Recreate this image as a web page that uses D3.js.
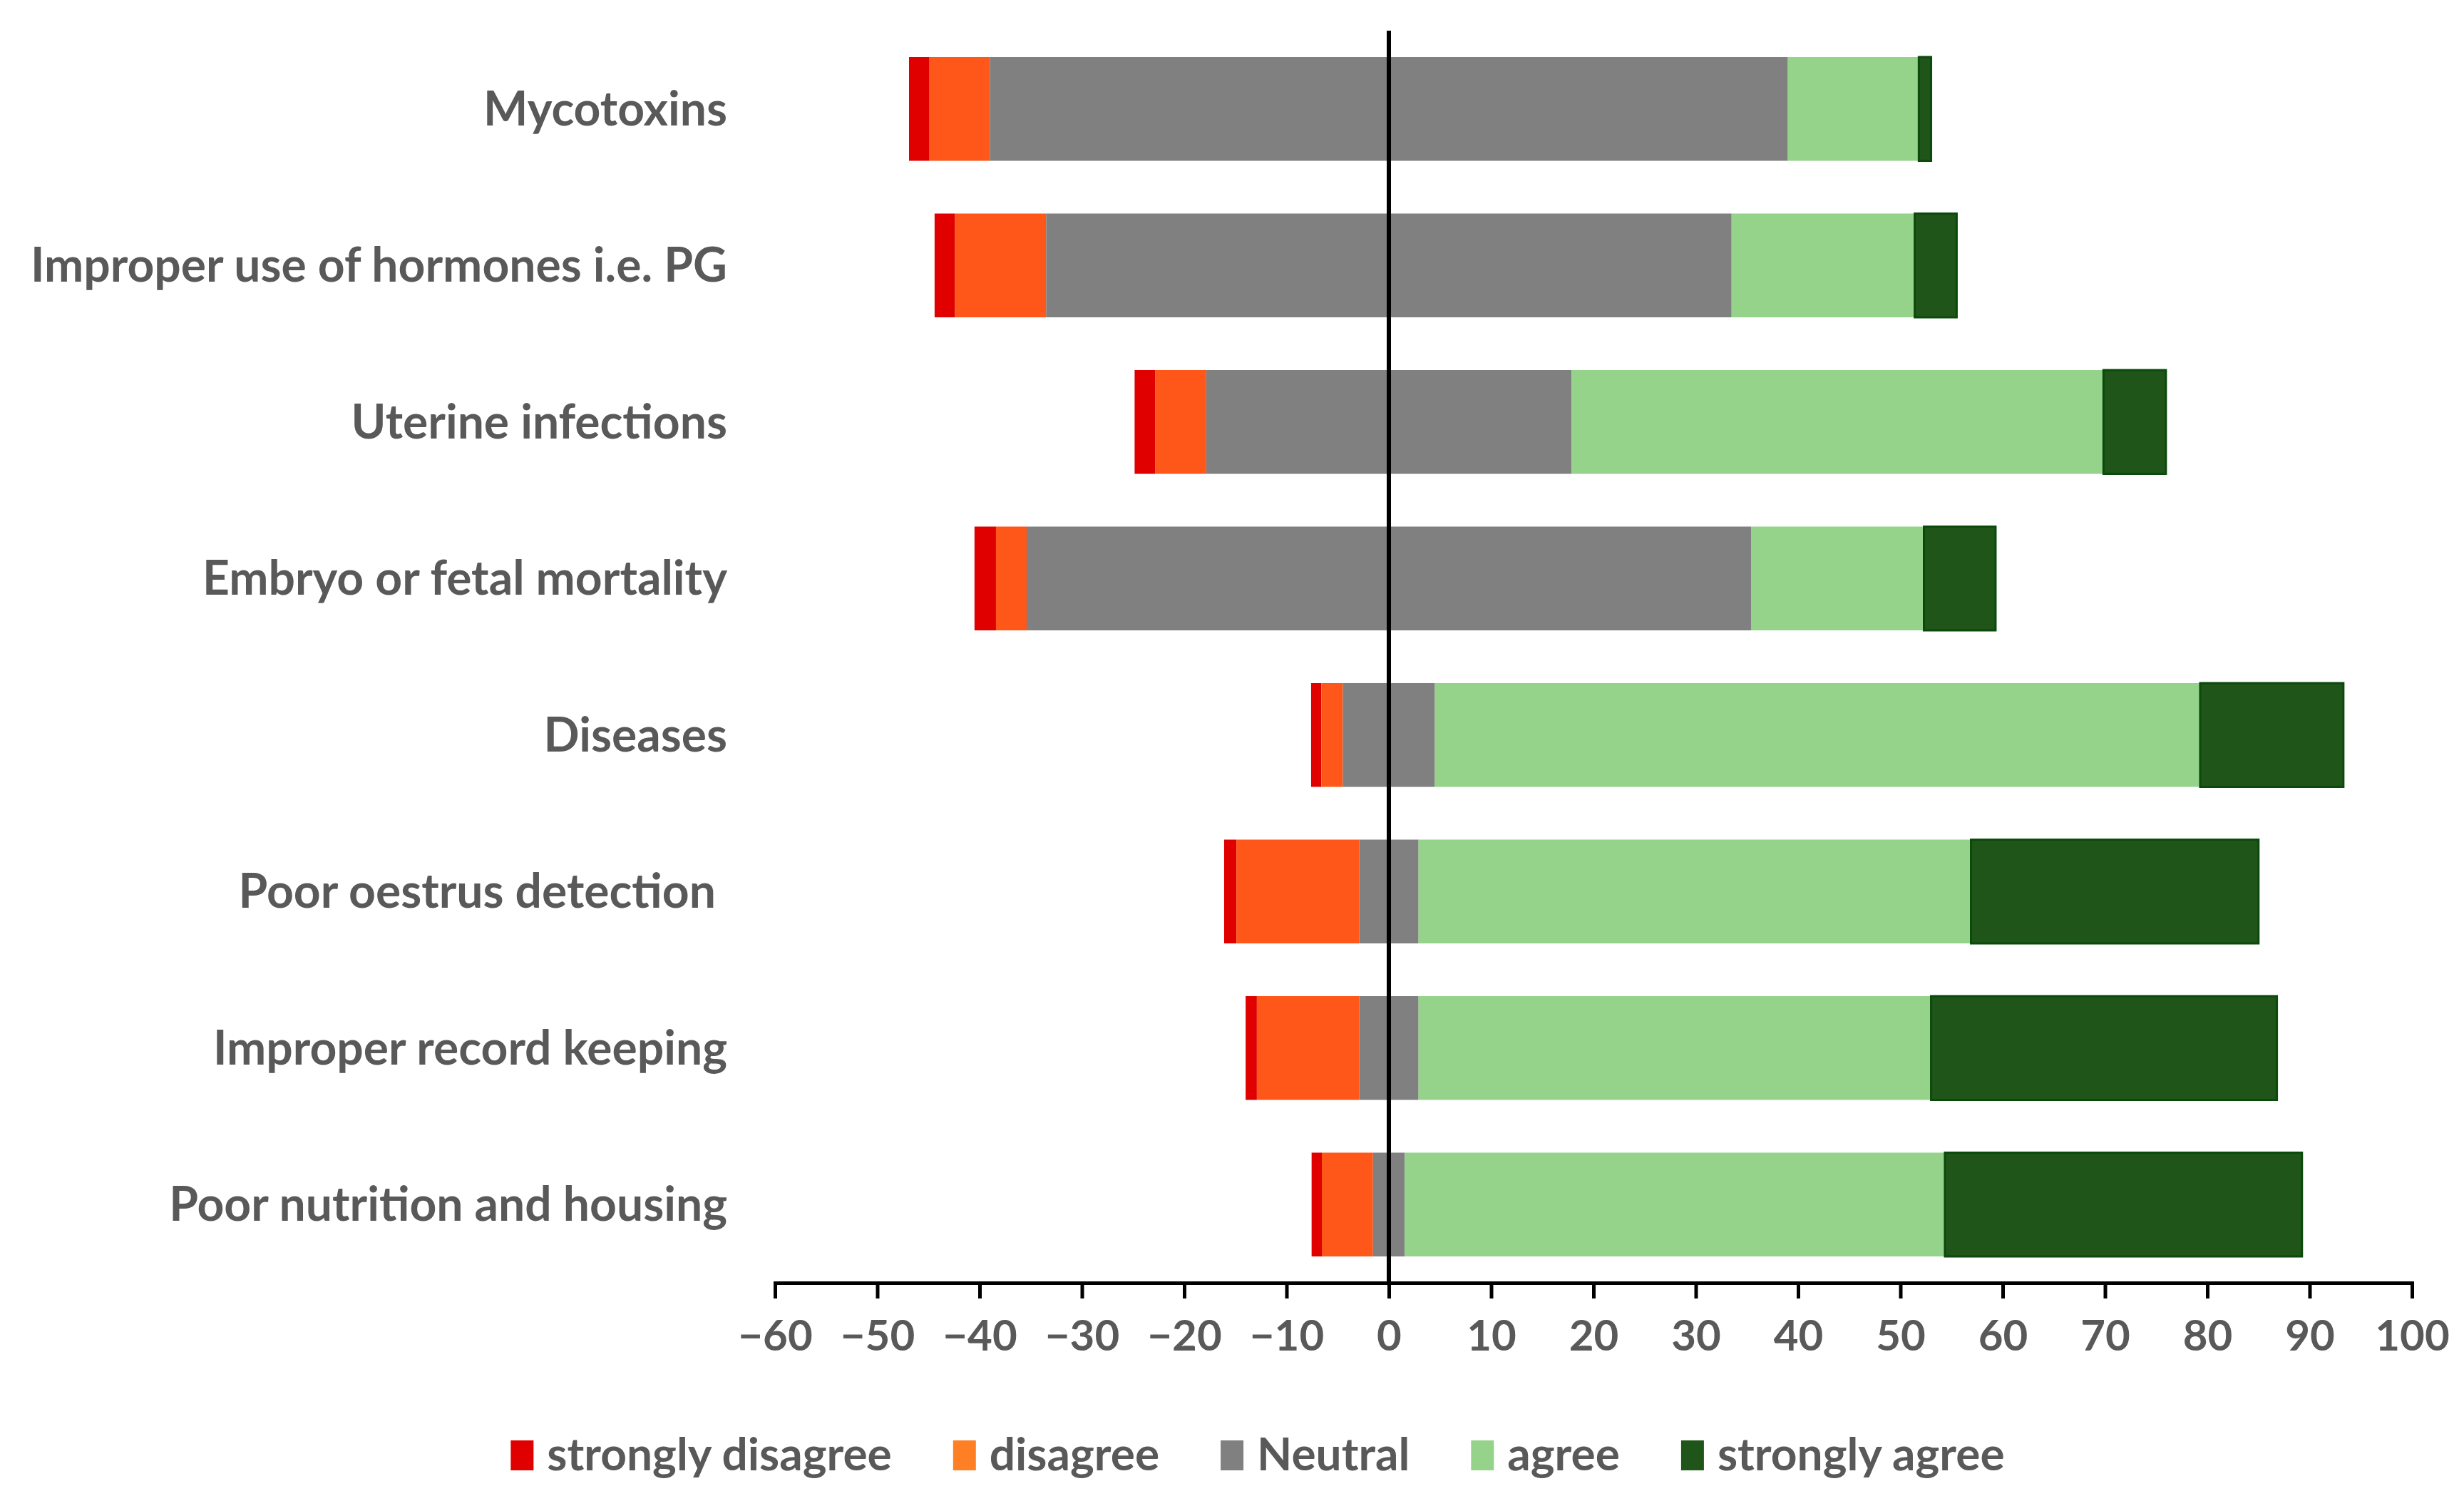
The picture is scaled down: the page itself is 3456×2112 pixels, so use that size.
<!DOCTYPE html>
<html lang="en">
<head>
  <meta charset="utf-8">
  <title>Likert bars</title>
  <script src="https://cdn.jsdelivr.net/npm/d3@7"></script>
  <style>
    * { margin: 0; padding: 0; }
    body { background: #fff; }
    text { font-family: Lato, "Open Sans", sans-serif; fill: #595959; font-weight: bold; }
  </style>
</head>
<body>
  <div id="chart"></div>
  <script>
    // categories, top to bottom
    var categories = ["Mycotoxins", "Improper use of hormones i.e. PG", "Uterine infections",
      "Embryo or fetal mortality", "Diseases", "Poor oestrus detection ",
      "Improper record keeping", "Poor nutrition and housing"];

    // percentages
    var stronglyDisagree = [2.0, 2.0, 2.0, 2.1, 1.0, 1.2, 1.1, 1.0];
    var disagree         = [5.9, 8.9, 5.0, 3.0, 2.1, 12.0, 10.0, 5.0];
    var neutral          = [78.0, 67.0, 35.7, 70.8, 9.0, 5.8, 5.8, 3.1];
    var agree            = [12.8, 17.9, 52.0, 16.9, 74.8, 54.0, 50.1, 52.8];
    var stronglyAgree    = [1.2, 4.1, 6.1, 7.0, 14.0, 28.1, 33.8, 34.9];

    var seriesNames = ["strongly disagree", "disagree", "Neutral", "agree", "strongly agree"];
    var xTicks = [-60, -50, -40, -30, -20, -10, 0, 10, 20, 30, 40, 50, 60, 70, 80, 90, 100];

    var barColors = ["#e00000", "#ff5719", "#808080", "#95d38a", "#1f5518"];
    var legendColors = ["#e00000", "#ff8024", "#808080", "#95d38a", "#1f5518"];

    var width = 3456, height = 2112;
    var svg = d3.select("#chart").append("svg")
        .attr("width", width)
        .attr("height", height);

    var x = d3.scaleLinear().domain([-60, 100]).range([1087, 3383]);
    var y = d3.scaleBand().domain(categories).range([43, 1799])
        .paddingInner(0.337).paddingOuter(0.337 / 2);

    // build segments: neutral split around zero
    var seriesValues = [stronglyDisagree, disagree, neutral, agree, stronglyAgree];
    var segments = [];
    categories.forEach(function(c, i) {
      var start = -(stronglyDisagree[i] + disagree[i] + neutral[i] / 2);
      seriesValues.forEach(function(vals, k) {
        segments.push({ cat: c, k: k, x0: start, x1: start + vals[i] });
        start += vals[i];
      });
    });

    svg.append("g").selectAll("rect")
      .data(segments)
      .enter().append("rect")
        .attr("x", function(d) { return x(d.x0); })
        .attr("y", function(d) { return y(d.cat); })
        .attr("width", function(d) { return x(d.x1) - x(d.x0); })
        .attr("height", y.bandwidth())
        .attr("fill", function(d) { return barColors[d.k]; })
        .attr("stroke", function(d) { return d.k == 4 ? "#0b4a0b" : "none"; })
        .attr("stroke-width", 3);

    // category labels
    svg.append("g").selectAll("text")
      .data(categories)
      .enter().append("text")
        .attr("x", 1020)
        .attr("y", function(d) { return y(d) + y.bandwidth() / 2 + 23; })
        .attr("text-anchor", "end")
        .style("white-space", "pre")
        .attr("font-size", 66)
        .text(function(d) { return d; });

    // zero line
    svg.append("line")
      .attr("x1", x(0)).attr("x2", x(0))
      .attr("y1", 43).attr("y2", 1799)
      .attr("stroke", "#000")
      .attr("stroke-width", 6);

    // bottom axis
    var xAxis = d3.axisBottom(x).tickValues(xTicks).tickSize(22).tickSizeOuter(22).tickPadding(30);
    var xAxisG = svg.append("g")
      .attr("transform", "translate(0,1799)")
      .call(xAxis);
    xAxisG.select(".domain").attr("stroke", "#000").attr("stroke-width", 5);
    xAxisG.selectAll(".tick line").attr("stroke", "#000").attr("stroke-width", 5);
    xAxisG.selectAll("text")
      .attr("font-size", 60)
      .attr("font-family", "Lato, sans-serif")
      .attr("font-weight", "bold")
      .attr("fill", "#595959");

    // legend
    var legend = svg.append("g");
    var items = legend.selectAll("g")
      .data(seriesNames)
      .enter().append("g");
    items.append("rect")
      .attr("width", 32).attr("height", 42)
      .attr("y", 2020)
      .attr("fill", function(d, i) { return legendColors[i]; });
    items.append("text")
      .attr("y", 2062)
      .attr("font-size", 64)
      .text(function(d) { return d; });

    var pos = 0;
    items.each(function() {
      var g = d3.select(this);
      var w = g.select("text").node().getComputedTextLength();
      g.attr("transform", "translate(" + pos + ",0)");
      g.select("text").attr("x", 51);
      pos += 51 + w + 86;
    });
    var total = pos - 86;
    legend.attr("transform", "translate(" + (1764 - total / 2) + ",0)");
  </script>
</body>
</html>
